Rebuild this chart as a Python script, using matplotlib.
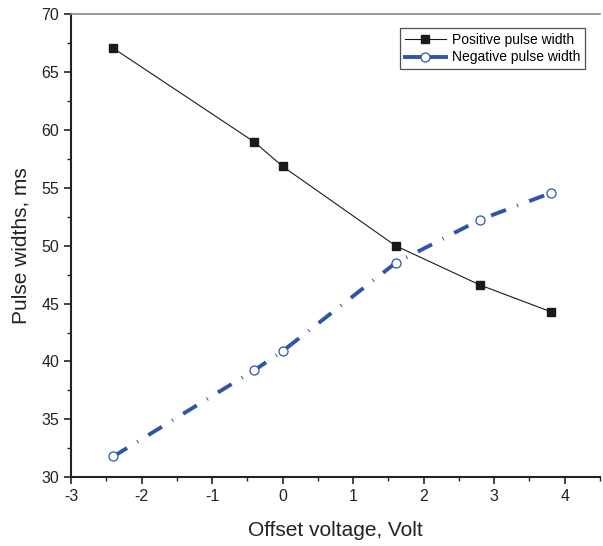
import matplotlib.pyplot as plt
from matplotlib.ticker import MultipleLocator

plt.rcParams['font.family'] = ['Liberation Sans', 'DejaVu Sans']
plt.rcParams['lines.scale_dashes'] = False
plt.rcParams['axes.unicode_minus'] = False

# dati
offset_v = [-2.4, -0.4, 0.0, 1.6, 2.8, 3.8]
positive_width = [67.05, 58.95, 56.85, 50.0, 46.6, 44.3]
negative_width = [31.8, 39.25, 40.9, 48.5, 52.25, 54.55]

blue = '#2f55a8'

fig = plt.figure(figsize=(6.03, 5.46), dpi=100)
ax = fig.add_axes([0.118, 0.126, 0.877, 0.848])

ax.plot(offset_v, positive_width, color='#1a1a1a', lw=0.8, marker='s', markersize=6,
        markerfacecolor='#1a1a1a', markeredgecolor='#1a1a1a', label='Positive pulse width')
ax.plot(offset_v, negative_width, color=blue, lw=2.8, dashes=(11.5, 8.6, 0.7, 8.6),
        dash_capstyle='butt', marker='o', markersize=6.5, markerfacecolor='white',
        markeredgecolor=blue, markeredgewidth=0.9, label='Negative pulse width')

ax.set_xlim(-3, 4.5)
ax.set_ylim(30, 70)
ax.xaxis.set_major_locator(MultipleLocator(1))
ax.xaxis.set_minor_locator(MultipleLocator(0.5))
ax.yaxis.set_major_locator(MultipleLocator(5))
ax.yaxis.set_minor_locator(MultipleLocator(2.5))
ax.set_xticks([-3, -2, -1, 0, 1, 2, 3, 4])

ax.tick_params(which='major', direction='out', length=5, width=1.2, labelsize=11.5, colors='#222222')
ax.tick_params(which='minor', direction='out', length=3, width=1.0, colors='#222222')
ax.tick_params(top=False, right=False, which='both')

ax.spines['right'].set_visible(False)
ax.spines['top'].set_color('#888888')
ax.spines['top'].set_linewidth(1.2)
ax.spines['left'].set_linewidth(1.5)
ax.spines['bottom'].set_linewidth(1.5)
ax.spines['left'].set_color('#222222')
ax.spines['bottom'].set_color('#222222')

ax.set_xlabel('Offset voltage, Volt', fontsize=15, color='#222222', labelpad=12)
ax.set_ylabel('Pulse widths, ms', fontsize=15, color='#222222', labelpad=8)

leg = ax.legend(loc='upper right', bbox_to_anchor=(0.985, 0.985), fontsize=10, frameon=True,
                fancybox=False, edgecolor='#222222', handlelength=3.0, borderpad=0.35,
                labelspacing=0.25, handletextpad=0.4)
leg.get_frame().set_linewidth(0.9)
for ln in leg.get_lines():
    ln.set_linestyle('-')

fig.savefig('out.png', dpi=100)
